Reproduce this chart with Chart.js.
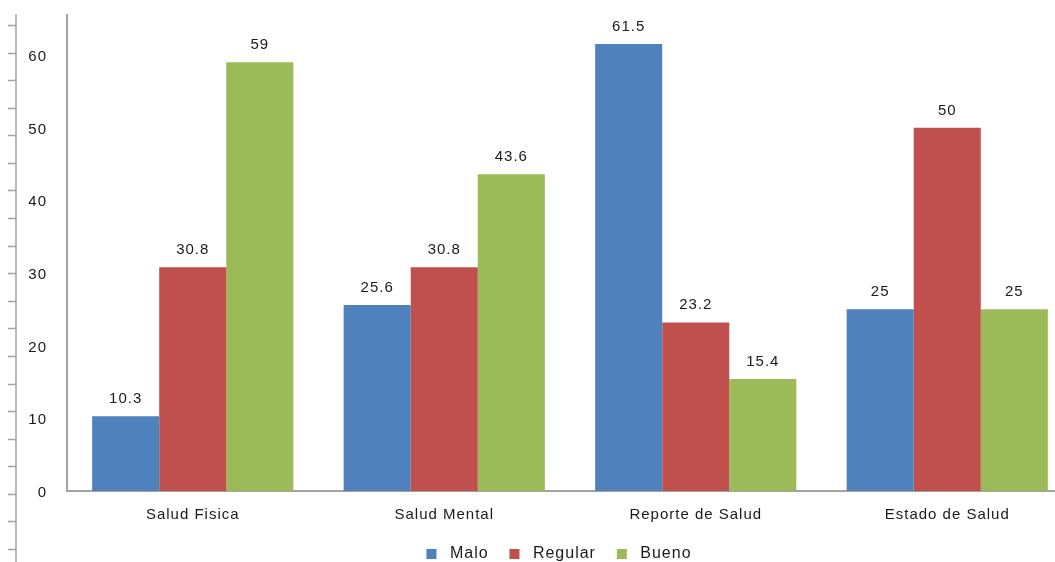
<!DOCTYPE html>
<html>
<head>
<meta charset="utf-8">
<script src="https://cdn.jsdelivr.net/npm/chart.js@4.4.0/dist/chart.umd.min.js"></script>
<style>
  html, body { margin: 0; padding: 0; background: #fff; overflow: hidden; }
  #wrap { width: 1110px; height: 572px; }
</style>
</head>
<body>
<div id="wrap"><canvas id="grafico"></canvas></div>
<script>
// datos
var categorias = ['Salud Fisica', 'Salud Mental', 'Reporte de Salud', 'Estado de Salud'];
var malo       = [10.3, 25.6, 61.5, 25];
var regular    = [30.8, 30.8, 23.2, 50];
var bueno      = [59, 43.6, 15.4, 25];
var ticksY     = [0, 10, 20, 30, 40, 50, 60];

var texto = '#1a1a1a';
var gris  = '#a3a3a3';
var fuente = '"Liberation Sans", Arial, sans-serif';

// espaciado de letras parecido al original
var espaciado = {
  id: 'espaciado',
  beforeLayout: function(chart) { chart.ctx.letterSpacing = '1px'; },
  beforeDraw: function(chart) { chart.ctx.letterSpacing = '1px'; }
};

// eje sobrante a la izquierda (recorte de la imagen original)
var ejeIzq = {
  id: 'ejeIzq',
  afterDraw: function(chart) {
    var ctx = chart.ctx;
    ctx.save();
    ctx.strokeStyle = gris;
    ctx.lineWidth = 1.5;
    ctx.beginPath();
    ctx.moveTo(16, 14);
    ctx.lineTo(16, chart.height);
    for (var i = 0; i < 20; i++) {
      var y = Math.round(25 + i * 27.58) + 0.5;
      ctx.moveTo(8, y);
      ctx.lineTo(16, y);
    }
    ctx.stroke();
    ctx.restore();
  }
};

// valores encima de cada barra
var etiquetas = {
  id: 'etiquetas',
  afterDatasetsDraw: function(chart) {
    var ctx = chart.ctx;
    ctx.save();
    ctx.font = '15px ' + fuente;
    ctx.fillStyle = texto;
    ctx.textAlign = 'center';
    ctx.textBaseline = 'alphabetic';
    chart.data.datasets.forEach(function(ds, i) {
      chart.getDatasetMeta(i).data.forEach(function(bar, j) {
        ctx.fillText(String(ds.data[j]), bar.x, bar.y - 13);
      });
    });
    ctx.restore();
  }
};

var ctx = document.getElementById('grafico').getContext('2d');
var grafico = new Chart(ctx, {
  type: 'bar',
  data: {
    labels: categorias,
    datasets: [
      { label: 'Malo',    data: malo,    backgroundColor: '#4f81bd' },
      { label: 'Regular', data: regular, backgroundColor: '#c0504d' },
      { label: 'Bueno',   data: bueno,   backgroundColor: '#9bbb59' }
    ]
  },
  options: {
    responsive: true,
    maintainAspectRatio: false,
    animation: false,
    categoryPercentage: 0.8,
    barPercentage: 1.0,
    layout: { padding: { left: 27, right: 19, top: 15, bottom: 0 } },
    plugins: {
      legend: {
        position: 'bottom',
        labels: {
          boxWidth: 10,
          boxHeight: 10,
          padding: 10,
          color: texto,
          font: { family: fuente, size: 16 },
          generateLabels: function(chart) {
            var items = Chart.defaults.plugins.legend.labels.generateLabels(chart);
            items.forEach(function(it, k) {
              it.text = ' ' + it.text + (k < items.length - 1 ? '  ' : '');
            });
            return items;
          }
        }
      },
      tooltip: { enabled: false }
    },
    scales: {
      x: {
        grid: { display: false, drawTicks: false },
        border: { display: true, color: gris, width: 2 },
        ticks: {
          color: texto,
          padding: 15,
          font: { family: fuente, size: 15 }
        },
        afterFit: function(s) {
          s.height = 45;
          s.paddingLeft = 0;
          s.paddingRight = 0;
        }
      },
      y: {
        min: 0,
        max: 65.5,
        grid: { display: false, drawTicks: false },
        border: { display: true, color: gris, width: 2 },
        afterBuildTicks: function(s) {
          s.ticks = ticksY.map(function(v) { return { value: v }; });
        },
        ticks: {
          color: texto,
          padding: 20,
          labelOffset: 2,
          font: { family: fuente, size: 15 }
        },
        afterFit: function(s) {
          s.width = 40;
          s.paddingTop = 0;
          s.paddingBottom = 0;
        }
      },
      // eje vacío para que la leyenda quede centrada como en el original
      derecha: {
        position: 'right',
        display: true,
        grid: { display: false, drawTicks: false },
        border: { display: false },
        ticks: { display: false },
        afterFit: function(s) { s.width = 18; }
      }
    }
  },
  plugins: [espaciado, ejeIzq, etiquetas]
});
</script>
</body>
</html>
